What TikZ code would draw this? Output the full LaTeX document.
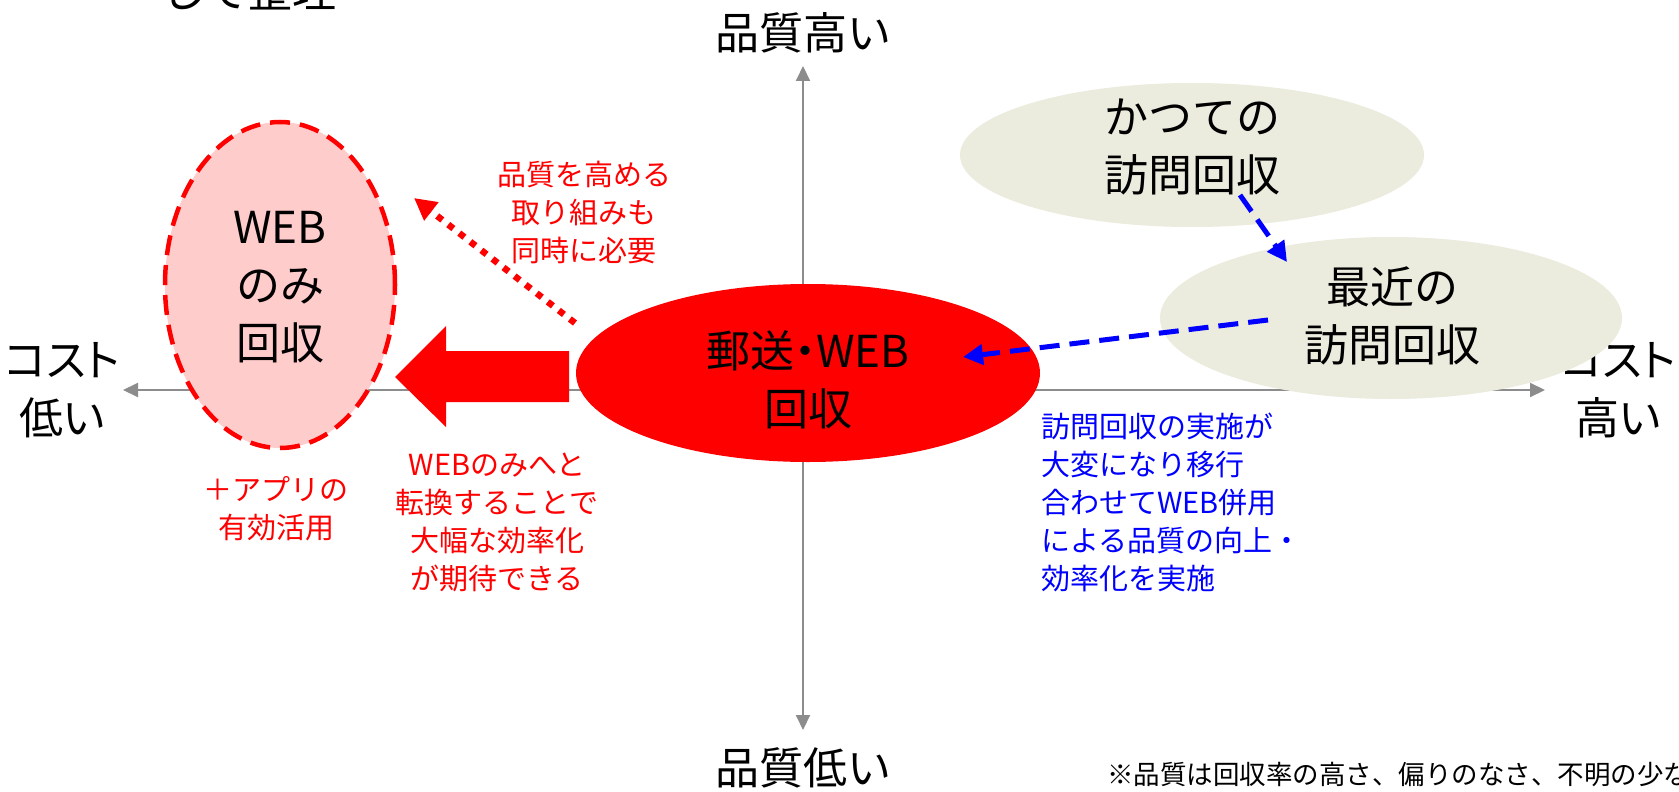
\documentclass[tikz,border=0pt]{standalone}
\usepackage{fontspec}
\setmainfont{Noto Sans CJK JP}
\newfontfamily\paltfont[RawFeature=+palt]{Noto Sans CJK JP}
\usetikzlibrary{shapes.geometric,arrows.meta}
\definecolor{axisgray}{HTML}{8C8C8C}
\definecolor{pinkfill}{HTML}{FFCCCC}
\definecolor{beige}{HTML}{EBEBDE}
\definecolor{myred}{HTML}{FF0000}
\definecolor{myblue}{HTML}{0000FF}
\tikzset{
  bigtext/.style={font=\fontsize{44}{58}\selectfont, align=center, inner sep=0pt},
  smalltext/.style={font=\fontsize{29}{38}\selectfont, align=center, inner sep=0pt},
  axisline/.style={draw=axisgray, line width=2pt, -{Triangle[length=15pt,width=14pt]}},
  oval/.style={ellipse, inner sep=0pt},
  bluearrow/.style={draw=myblue, line width=5pt, dash pattern=on 20pt off 10pt, -{Triangle[length=20pt,width=20pt]}},
  dotarrow/.style={draw=myred, line width=6.5pt, dash pattern=on 6.5pt off 7.5pt, -{Triangle[length=22pt,width=22pt]}},
}
\begin{document}
\begin{tikzpicture}[x=1pt,y=-1pt]
\useasboundingbox (0,0) rectangle (1679,792);
\clip (0,0) rectangle (1679,792);
\fill[white] (0,0) rectangle (1679,792);

% cut-off title
\node[bigtext, anchor=base] (title) at (249,8) {して整理};

% axes
\coordinate (xl) at (123,390);
\coordinate (xr) at (1545,390);
\coordinate (yt) at (803,66);
\coordinate (yb) at (803,730);
\coordinate (o) at (803,390);
\draw[axisline] (o) -- (xl);
\draw[axisline] (o) -- (xr);
\draw[axisline] (o) -- (yt);
\draw[axisline] (o) -- (yb);

\node[bigtext] (qhigh) at (803,33) {品質高い};
\node[bigtext] (qlow) at (803,768) {品質低い};
\node[bigtext, font=\fontsize{44}{58}\paltfont] (clow) at (62,390) {コスト\\低い};
\node[bigtext, font=\fontsize{44}{58}\paltfont] (chigh) at (1618,390) {コスト\\高い};

% ellipses
\node[oval, fill=pinkfill, draw=myred, line width=4.5pt, dash pattern=on 20pt off 10pt,
      minimum width=230pt, minimum height=326pt] (web) at (280,285) {};
\node[bigtext] (webt) at (280,287) {WEB\\のみ\\回収};

\node[oval, fill=beige, minimum width=464pt, minimum height=144pt] (old) at (1192,155) {};
\node[bigtext] (oldt) at (1192,147) {かつての\\訪問回収};

\node[oval, fill=beige, minimum width=462pt, minimum height=162pt] (recent) at (1391,318) {};
\node[bigtext] (recentt) at (1392,316) {最近の\\訪問回収};

\node[oval, fill=myred, minimum width=464pt, minimum height=178pt] (mail) at (808,373) {};
\node[bigtext, font=\fontsize{44}{58}\paltfont] (mailt) at (808,380) {郵送・WEB\\回収};

% big red arrow
\fill[myred] (569,351) -- (446,351) -- (446,326) -- (395,377) -- (446,427) -- (446,402) -- (569,402) -- cycle;

% dotted arrow
\coordinate (d1) at (575,323);
\coordinate (d2) at (414,198);
\draw[dotarrow] (d1) -- (d2);

% blue arrows
\coordinate (b1s) at (1240,195);
\coordinate (b1e) at (1287,262);
\draw[bluearrow] (b1s) -- (b1e);
\coordinate (b2s) at (1268,320);
\coordinate (b2e) at (963,357);
\draw[bluearrow] (b2s) -- (b2e);

% red texts
\node[smalltext, text=myred] (qnote) at (584,212) {品質を高める\\取り組みも\\同時に必要};
\node[smalltext, text=myred] (appnote) at (276,509) {＋アプリの\\有効活用};
\node[smalltext, text=myred] (webnote) at (497,522) {WEBのみへと\\転換することで\\大幅な効率化\\が期待できる};

% blue text
\node[smalltext, text=myblue, align=left, anchor=west] (visitnote) at (1041,502) {訪問回収の実施が\\大変になり移行\\合わせてWEB併用\\による品質の向上・\\効率化を実施};

% footnote
\node[font=\fontsize{26.5}{30}\selectfont, inner sep=0pt, anchor=west] (foot) at (1107,775) {※品質は回収率の高さ、偏りのなさ、不明の少なさ};
\end{tikzpicture}
\end{document}
